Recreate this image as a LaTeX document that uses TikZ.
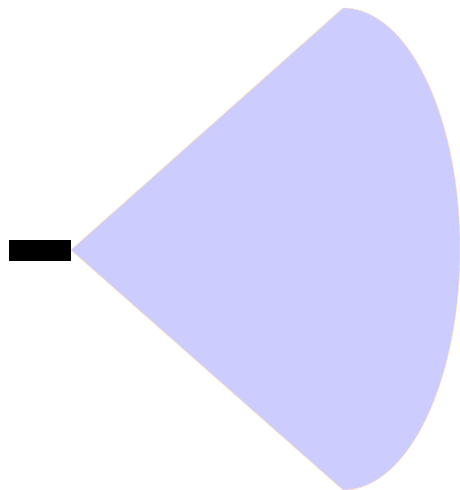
\documentclass[tikz,border=0pt]{standalone}
\begin{document}
\begin{tikzpicture}[x=1pt,y=-1pt]
  \useasboundingbox (0,0) rectangle (460,490);
  % beam cone
  \fill[blue!20,draw=orange!25,line width=0.6pt] (71,250) -- (343,8)
    arc[start angle=-90,end angle=90,x radius=117,y radius=241] -- cycle;
  % emitter
  \fill[black] (9,240) rectangle (71,261);
\end{tikzpicture}
\end{document}
